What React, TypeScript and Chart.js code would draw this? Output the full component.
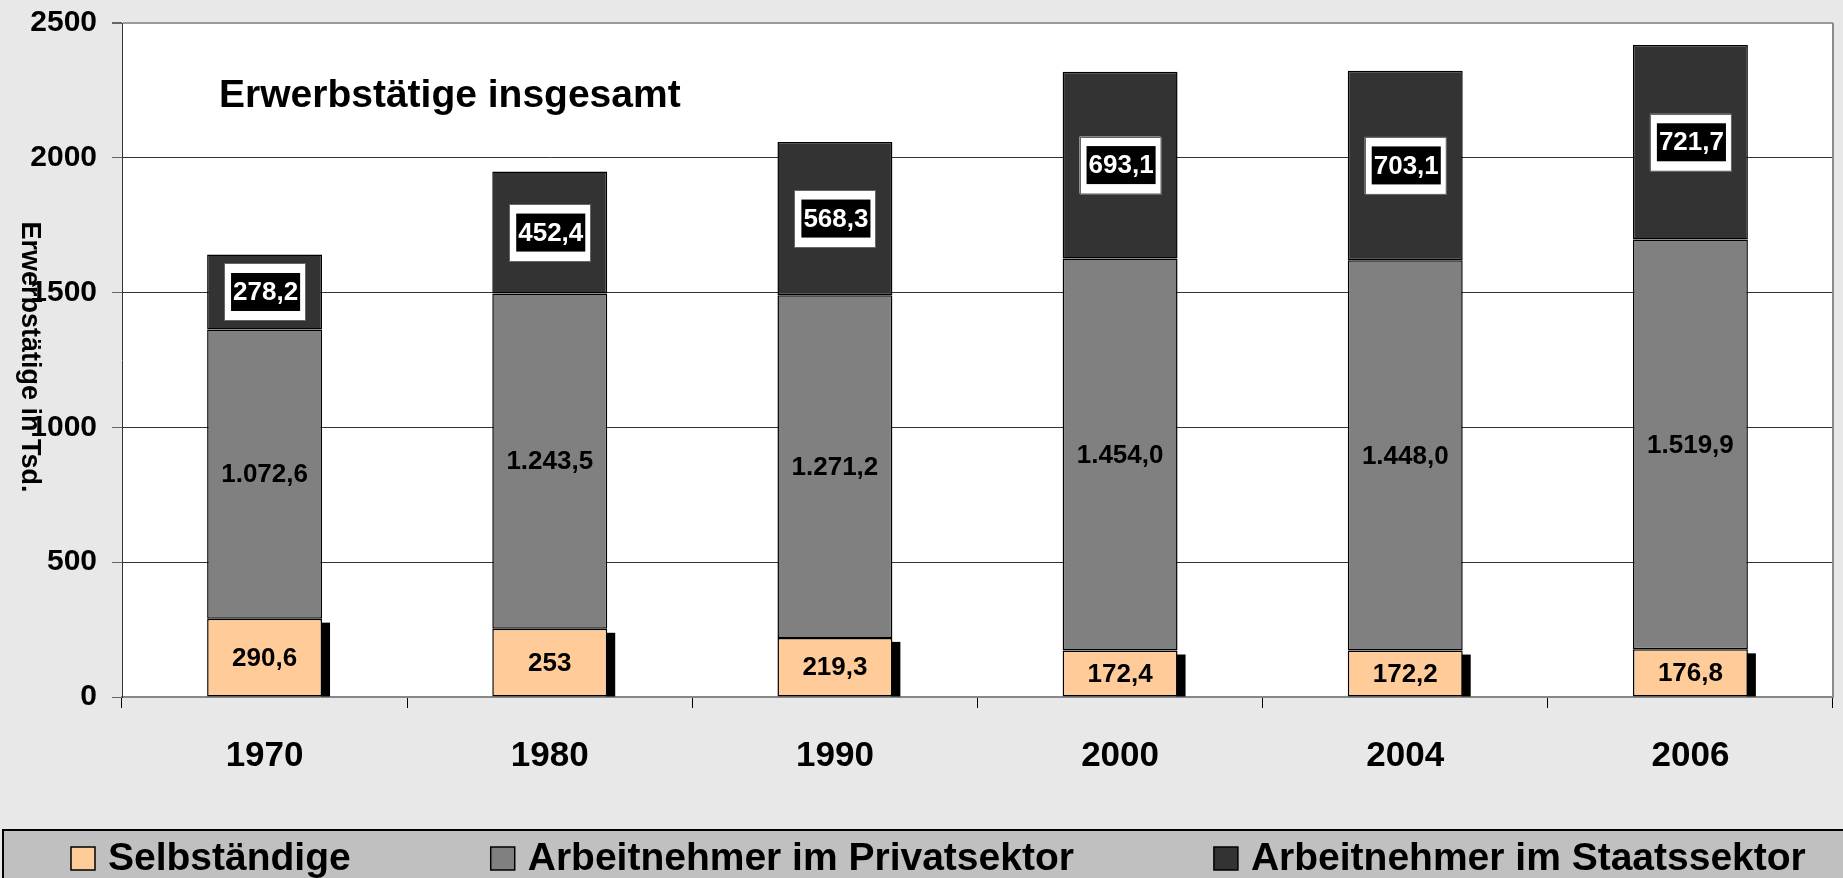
import React, { useEffect, useRef } from "react";
import { Chart, registerables } from "chart.js";

Chart.register(...registerables);

const categories = ["1970", "1980", "1990", "2000", "2004", "2006"];
const selbstaendige = [290.6, 253, 219.3, 172.4, 172.2, 176.8];
const privatsektor = [1072.6, 1243.5, 1271.2, 1454.0, 1448.0, 1519.9];
const staatssektor = [278.2, 452.4, 568.3, 693.1, 703.1, 721.7];
const seriesNames = ["Selbständige", "Arbeitnehmer im Privatsektor", "Arbeitnehmer im Staatssektor"];
const seriesColors = ["#FFCC99", "#808080", "#333333"];
const yMin = 0;
const yMax = 2500;
const yStep = 500;
const chartTitle = "Erwerbstätige insgesamt";
const yAxisTitle = "Erwerbstätige in Tsd.";

const FONT = '"Liberation Sans", Arial, Helvetica, sans-serif';

function fmtDe(v: number, alwaysDecimal: boolean): string {
  const dec = alwaysDecimal || !Number.isInteger(v) ? 1 : 0;
  const s = v.toFixed(dec);
  const parts = s.split(".");
  const i = parts[0].replace(/\B(?=(\d{3})+(?!\d))/g, ".");
  return parts[1] ? i + "," + parts[1] : i;
}

const bgPlugin = {
  id: "bgPlugin",
  beforeDraw(chart: any) {
    const { ctx, chartArea: a, width, height } = chart;
    ctx.save();
    ctx.fillStyle = "#e8e8e8";
    ctx.fillRect(0, 0, width, height);
    ctx.fillStyle = "#ffffff";
    ctx.fillRect(a.left, a.top, a.right - a.left, a.bottom - a.top);
    ctx.restore();
  },
};

const shadowPlugin = {
  id: "shadowPlugin",
  beforeDatasetsDraw(chart: any) {
    const { ctx, chartArea: a } = chart;
    ctx.save();
    ctx.strokeStyle = "#8a8a8a";
    ctx.lineWidth = 2;
    ctx.beginPath();
    ctx.moveTo(a.right, a.top);
    ctx.lineTo(a.right, a.bottom);
    ctx.stroke();
    ctx.beginPath();
    ctx.rect(a.left, a.top, a.right - a.left, a.bottom - a.top);
    ctx.clip();
    ctx.fillStyle = "#000";
    const meta = chart.getDatasetMeta(0);
    meta.data.forEach((el: any) => {
      const p = el.getProps(["x", "y", "base", "width"], true);
      ctx.fillRect(p.x + p.width / 2 - 1, p.y + 4, 9, p.base - p.y - 4);
    });
    ctx.restore();
  },
};

const labelPlugin = {
  id: "labelPlugin",
  afterDatasetsDraw(chart: any) {
    const { ctx } = chart;
    ctx.save();
    ctx.font = `bold 26px ${FONT}`;
    ctx.textAlign = "center";
    ctx.textBaseline = "middle";
    chart.data.datasets.forEach((ds: any, di: number) => {
      const meta = chart.getDatasetMeta(di);
      meta.data.forEach((el: any, i: number) => {
        const p = el.getProps(["x", "y", "base", "width"], true);
        const cy = (p.y + p.base) / 2;
        const v = ds.data[i] as number;
        const txt = fmtDe(v, di === 1);
        if (di === 2) {
          const tw = ctx.measureText(txt).width;
          const bw = tw + 4;
          const bh = 38;
          const ww = bw + 12;
          const wh = 57;
          ctx.fillStyle = "#ffffff";
          ctx.fillRect(p.x - ww / 2, cy - wh / 2, ww, wh);
          ctx.strokeStyle = "#666";
          ctx.lineWidth = 1;
          ctx.strokeRect(Math.round(p.x - ww / 2) + 0.5, Math.round(cy - wh / 2) + 0.5, Math.round(ww), Math.round(wh));
          ctx.fillStyle = "#000";
          ctx.fillRect(p.x - bw / 2 + 1, cy - bh / 2, bw, bh);
          ctx.fillStyle = "#fff";
          ctx.fillText(txt, p.x + 1, cy + 1);
        } else {
          ctx.fillStyle = "#000";
          ctx.fillText(txt, p.x, cy + 1);
        }
      });
    });
    ctx.restore();
  },
};

const decorPlugin = {
  id: "decorPlugin",
  afterDraw(chart: any) {
    const { ctx, width } = chart;
    ctx.save();
    ctx.fillStyle = "#000";
    ctx.font = `bold 39px ${FONT}`;
    ctx.textAlign = "left";
    ctx.textBaseline = "alphabetic";
    ctx.fillText(chartTitle, 219, 107);

    ctx.save();
    ctx.translate(29, 357);
    ctx.rotate(Math.PI / 2);
    ctx.font = `bold 27px ${FONT}`;
    ctx.textAlign = "center";
    ctx.textBaseline = "middle";
    ctx.fillText(yAxisTitle, 0, 0);
    ctx.restore();

    ctx.fillStyle = "#c0c0c0";
    ctx.fillRect(3, 830, width + 10, 80);
    ctx.strokeStyle = "#000";
    ctx.lineWidth = 2;
    ctx.strokeRect(3, 830, width + 10, 80);
    ctx.font = `bold 39px ${FONT}`;
    ctx.textBaseline = "alphabetic";
    let x = 71;
    seriesNames.forEach((name, i) => {
      ctx.fillStyle = seriesColors[i];
      ctx.fillRect(x, 847, 24, 23);
      ctx.strokeStyle = "#000";
      ctx.lineWidth = 1.5;
      ctx.strokeRect(x, 847, 24, 23);
      ctx.fillStyle = "#000";
      ctx.fillText(name, x + 37, 870);
      x += 37 + ctx.measureText(name).width + 140;
    });
    ctx.restore();
  },
};

export default function App() {
  const ref = useRef<HTMLCanvasElement>(null);
  useEffect(() => {
    document.body.style.margin = "0";
    document.body.style.overflow = "hidden";
    const chart = new Chart(ref.current as HTMLCanvasElement, {
      type: "bar",
      data: {
        labels: categories,
        datasets: [
          { label: seriesNames[0], data: selbstaendige, backgroundColor: seriesColors[0] },
          { label: seriesNames[1], data: privatsektor, backgroundColor: seriesColors[1] },
          { label: seriesNames[2], data: staatssektor, backgroundColor: seriesColors[2] },
        ].map((d) => ({
          ...d,
          borderColor: "#000",
          borderWidth: 1.5,
          borderSkipped: false,
          barPercentage: 0.403,
          categoryPercentage: 1,
        })) as any,
      },
      options: {
        responsive: false,
        animation: false,
        layout: { padding: { top: 23, right: 10, left: 0, bottom: 0 } },
        plugins: {
          legend: { display: false },
          tooltip: { enabled: false },
          title: { display: false },
        },
        scales: {
          x: {
            stacked: true,
            grid: {
              display: true,
              drawOnChartArea: false,
              drawTicks: true,
              tickLength: 11,
              color: "#000",
              lineWidth: 1,
              offset: true,
            },
            border: { display: true, color: "#888", width: 2 },
            ticks: {
              color: "#000",
              font: { family: FONT, size: 35, weight: "bold" },
              padding: 27,
            },
            afterFit(s: any) {
              s.height = 181;
              s.paddingLeft = 0;
              s.paddingRight = 0;
            },
          } as any,
          y: {
            stacked: true,
            min: yMin,
            max: yMax,
            ticks: {
              stepSize: yStep,
              color: "#000",
              font: { family: FONT, size: 30, weight: "bold" },
              padding: 15,
              callback: (v: any) => String(v),
            },
            grid: {
              color: (c: any) => (c.tick && c.tick.value === yMax ? "#9a9a9a" : "#333"),
              lineWidth: (c: any) => (c.tick && c.tick.value === yMax ? 2 : 1),
              tickLength: 10,
              drawTicks: true,
              tickColor: "#666",
            },
            border: { display: true, color: "#333", width: 1 },
            afterFit(s: any) {
              s.width = 122;
              s.paddingTop = 0;
              s.paddingBottom = 0;
            },
          } as any,
        },
      },
      plugins: [bgPlugin, shadowPlugin, labelPlugin, decorPlugin],
    });
    return () => chart.destroy();
  }, []);
  return (
    <div style={{ width: 1843, height: 878, overflow: "hidden" }}>
      <canvas ref={ref} width={1843} height={878} style={{ display: "block", width: 1843, height: 878 }} />
    </div>
  );
}
